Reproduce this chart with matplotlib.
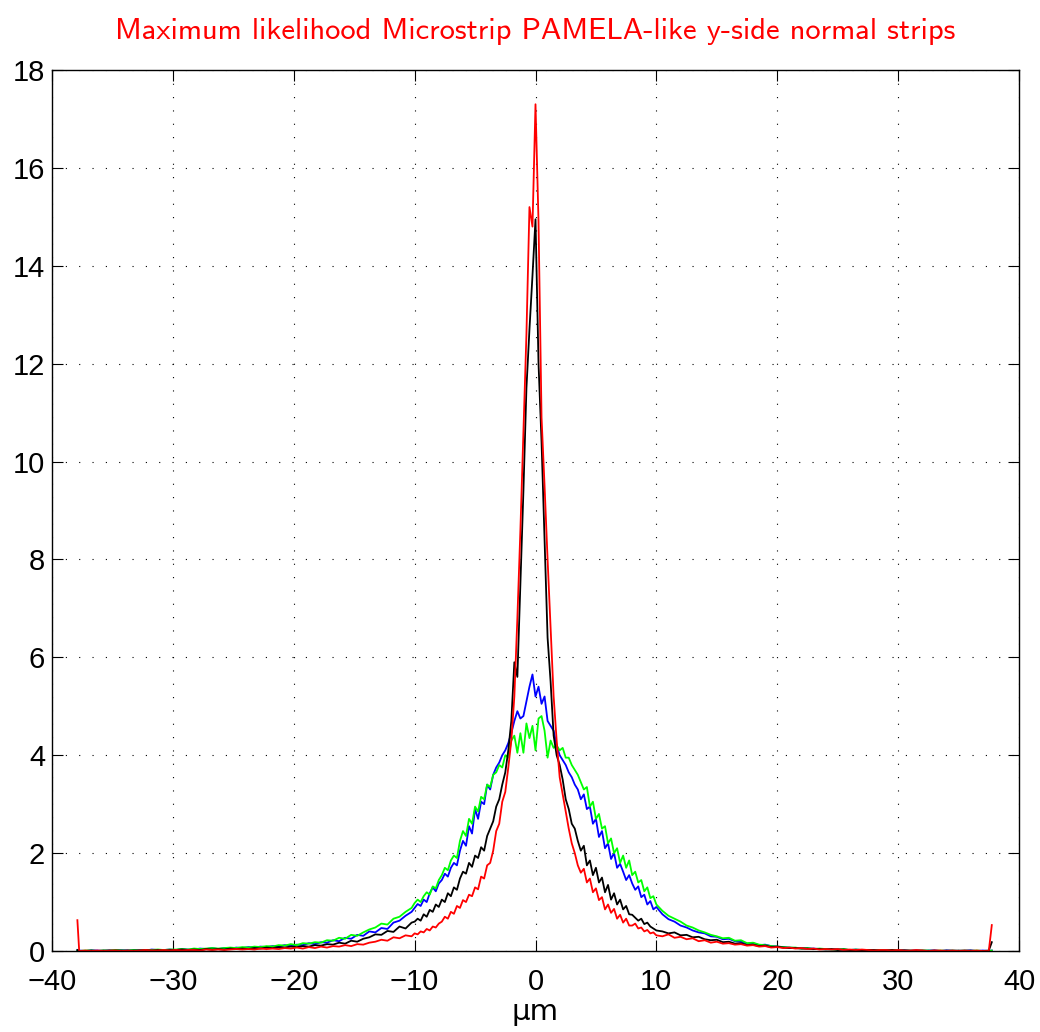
import numpy as np
import matplotlib
matplotlib.use("Agg")
import matplotlib.pyplot as plt

# bin centres: coarse tails (0.5 um), fine core (0.25 um)
x_left = np.concatenate([[-37.9], np.arange(-37.75, -10.2, 0.5)])
x_core = np.arange(-10.0, 10.01, 0.25)
x_right = np.concatenate([np.arange(10.5, 37.51, 0.5), [37.75]])

red_left = [0.63,
            0.00, 0.01, 0.00, 0.01, 0.00, 0.01, 0.01, 0.00,
            0.01, 0.00, 0.01, 0.02, 0.01, 0.01, 0.02, 0.01,
            0.02, 0.01, 0.02, 0.02, 0.01, 0.03, 0.02, 0.03,
            0.02, 0.03, 0.04, 0.03, 0.04, 0.03, 0.05, 0.04,
            0.05, 0.04, 0.06, 0.05, 0.07, 0.05, 0.08, 0.06,
            0.09, 0.07, 0.10, 0.09, 0.12, 0.10, 0.14, 0.13,
            0.17, 0.19, 0.23, 0.21, 0.28, 0.26, 0.32, 0.30]
red_core = [0.36, 0.34, 0.40, 0.38, 0.45, 0.42, 0.50, 0.48, 0.56,
            0.60, 0.70, 0.66, 0.80, 0.76, 0.92, 0.88, 1.04, 1.00,
            1.15, 1.12, 1.30, 1.26, 1.52, 1.48, 1.75, 1.80, 2.05,
            2.45, 2.60, 3.05, 3.25, 3.75, 4.30, 5.20, 6.80, 8.60,
            10.60, 12.60, 15.20, 14.80, 17.30, 14.90, 10.90, 9.50, 8.00,
            6.60, 5.20, 4.30, 3.55, 3.20, 2.85, 2.50, 2.20, 2.00,
            1.75, 1.60, 1.68, 1.40, 1.48, 1.20, 1.28, 1.04, 1.10,
            0.85, 0.95, 0.78, 0.86, 0.66, 0.74, 0.58, 0.66, 0.52,
            0.52, 0.56, 0.46, 0.48, 0.40, 0.43, 0.36, 0.38, 0.32]
red_right = [0.30, 0.34, 0.27, 0.29, 0.24, 0.26, 0.20, 0.22,
             0.17, 0.19, 0.15, 0.16, 0.13, 0.14, 0.11, 0.12,
             0.09, 0.10, 0.07, 0.08, 0.06, 0.07, 0.05, 0.06,
             0.04, 0.05, 0.03, 0.04, 0.03, 0.04, 0.02, 0.03,
             0.02, 0.03, 0.02, 0.01, 0.02, 0.02, 0.01, 0.02,
             0.01, 0.01, 0.02, 0.01, 0.00, 0.01, 0.01, 0.00,
             0.01, 0.00, 0.01, 0.00, 0.01, 0.00, 0.00, 0.53]

black_left = [0.02,
              0.00, 0.00, 0.01, 0.00, 0.01, 0.00, 0.01, 0.01,
              0.00, 0.01, 0.01, 0.02, 0.01, 0.02, 0.01, 0.02,
              0.02, 0.03, 0.02, 0.03, 0.02, 0.04, 0.03, 0.04,
              0.03, 0.05, 0.04, 0.05, 0.04, 0.06, 0.05, 0.07,
              0.06, 0.08, 0.07, 0.09, 0.08, 0.10, 0.09, 0.12,
              0.11, 0.14, 0.13, 0.17, 0.15, 0.21, 0.19, 0.25,
              0.28, 0.34, 0.33, 0.41, 0.39, 0.50, 0.46, 0.58]
black_core = [0.60, 0.66, 0.62, 0.75, 0.70, 0.84, 0.80, 0.95, 0.90,
              1.05, 1.00, 1.18, 1.12, 1.30, 1.25, 1.48, 1.62, 1.58,
              1.80, 1.72, 1.95, 1.90, 2.12, 2.05, 2.35, 2.50, 2.65,
              2.95, 3.10, 3.40, 3.65, 4.10, 4.70, 5.90, 5.60, 7.50,
              9.40, 11.50, 12.70, 13.80, 14.95, 12.00, 10.40, 8.40, 6.40,
              5.50, 4.40, 4.00, 3.80, 3.50, 3.10, 2.90, 2.60, 2.50,
              2.25, 2.05, 2.15, 1.75, 1.85, 1.55, 1.70, 1.40, 1.50,
              1.20, 1.35, 1.05, 1.18, 0.95, 1.05, 0.85, 0.92, 0.75,
              0.74, 0.68, 0.62, 0.66, 0.55, 0.58, 0.50, 0.46, 0.42]
black_right = [0.40, 0.36, 0.38, 0.32, 0.33, 0.28, 0.29, 0.24,
               0.22, 0.23, 0.18, 0.19, 0.15, 0.16, 0.12, 0.13,
               0.10, 0.11, 0.08, 0.09, 0.07, 0.06, 0.06, 0.05,
               0.05, 0.04, 0.04, 0.03, 0.04, 0.02, 0.03, 0.02,
               0.02, 0.01, 0.02, 0.02, 0.01, 0.01, 0.02, 0.01,
               0.01, 0.00, 0.01, 0.01, 0.00, 0.01, 0.00, 0.01,
               0.00, 0.01, 0.00, 0.01, 0.00, 0.00, 0.01, 0.18]

blue_left = [0.02,
             0.01, 0.00, 0.01, 0.01, 0.00, 0.02, 0.01, 0.01,
             0.02, 0.01, 0.02, 0.01, 0.03, 0.02, 0.02, 0.03,
             0.02, 0.04, 0.03, 0.03, 0.05, 0.04, 0.06, 0.04,
             0.06, 0.05, 0.07, 0.06, 0.08, 0.07, 0.09, 0.08,
             0.10, 0.09, 0.12, 0.10, 0.13, 0.12, 0.16, 0.14,
             0.18, 0.17, 0.22, 0.20, 0.27, 0.25, 0.33, 0.31,
             0.40, 0.38, 0.47, 0.45, 0.58, 0.62, 0.72, 0.80]
blue_core = [0.88, 0.96, 0.92, 1.05, 1.00, 1.18, 1.30, 1.22, 1.38,
             1.45, 1.58, 1.52, 1.70, 1.80, 1.75, 2.05, 2.25, 2.15,
             2.55, 2.40, 2.90, 2.70, 3.05, 3.00, 3.40, 3.30, 3.60,
             3.75, 3.85, 4.00, 4.10, 4.25, 4.45, 4.70, 4.90, 4.75,
             4.80, 5.10, 5.40, 5.65, 5.20, 5.40, 5.05, 5.20, 4.70,
             4.60, 4.50, 4.20, 4.00, 3.90, 3.80, 3.65, 3.55, 3.40,
             3.30, 3.10, 3.20, 2.90, 2.95, 2.60, 2.70, 2.33, 2.45,
             2.10, 2.20, 1.88, 2.00, 1.70, 1.78, 1.62, 1.45, 1.55,
             1.38, 1.25, 1.32, 1.10, 1.15, 0.95, 1.02, 0.85, 0.90]
blue_right = [0.75, 0.65, 0.60, 0.52, 0.48, 0.42, 0.38, 0.36,
              0.30, 0.29, 0.24, 0.25, 0.20, 0.19, 0.15, 0.16,
              0.12, 0.13, 0.10, 0.09, 0.08, 0.07, 0.06, 0.06,
              0.05, 0.05, 0.04, 0.04, 0.03, 0.04, 0.03, 0.02,
              0.03, 0.02, 0.02, 0.01, 0.02, 0.02, 0.01, 0.01,
              0.02, 0.01, 0.01, 0.00, 0.01, 0.01, 0.00, 0.01,
              0.01, 0.00, 0.01, 0.01, 0.00, 0.01, 0.00, 0.01]

green_left = [0.01,
              0.00, 0.01, 0.01, 0.00, 0.01, 0.01, 0.02, 0.01,
              0.01, 0.02, 0.01, 0.02, 0.02, 0.03, 0.02, 0.03,
              0.03, 0.04, 0.03, 0.05, 0.04, 0.05, 0.06, 0.05,
              0.06, 0.07, 0.06, 0.08, 0.07, 0.09, 0.08, 0.10,
              0.09, 0.12, 0.11, 0.14, 0.12, 0.16, 0.15, 0.18,
              0.17, 0.22, 0.21, 0.27, 0.25, 0.33, 0.31, 0.38,
              0.44, 0.48, 0.56, 0.54, 0.66, 0.70, 0.80, 0.88]
green_core = [0.98, 1.05, 1.00, 1.12, 1.20, 1.15, 1.32, 1.28, 1.45,
              1.55, 1.70, 1.65, 1.85, 1.95, 1.90, 2.25, 2.45, 2.35,
              2.70, 2.60, 2.95, 2.85, 3.15, 3.10, 3.40, 3.35, 3.60,
              3.65, 3.80, 3.75, 4.00, 3.95, 4.30, 4.40, 4.05, 4.45,
              4.05, 4.65, 4.35, 4.60, 4.10, 4.75, 4.80, 4.50, 3.95,
              4.30, 4.15, 4.20, 4.10, 4.15, 3.95, 3.95, 3.80, 3.70,
              3.60, 3.45, 3.30, 3.35, 2.95, 3.05, 2.70, 2.80, 2.50,
              2.55, 2.20, 2.30, 2.00, 2.10, 1.80, 1.95, 1.70, 1.85,
              1.55, 1.62, 1.40, 1.45, 1.22, 1.30, 1.08, 1.12, 0.95]
green_right = [0.82, 0.72, 0.66, 0.60, 0.52, 0.48, 0.42, 0.38,
               0.33, 0.30, 0.26, 0.27, 0.21, 0.22, 0.16, 0.17,
               0.13, 0.12, 0.10, 0.09, 0.08, 0.07, 0.07, 0.05,
               0.06, 0.04, 0.05, 0.04, 0.03, 0.03, 0.04, 0.02,
               0.03, 0.02, 0.02, 0.01, 0.02, 0.01, 0.02, 0.01,
               0.01, 0.01, 0.00, 0.01, 0.01, 0.00, 0.01, 0.00,
               0.01, 0.00, 0.01, 0.00, 0.01, 0.00, 0.00, 0.01]

x_ticks = list(range(-40, 41, 10))
y_ticks = list(range(0, 19, 2))

xs = np.concatenate([x_left, x_core, x_right])

def series(left, core, right):
    return np.concatenate([left, core, right])

fig = plt.figure(figsize=(10.4, 10.32), dpi=100)
ax = fig.add_axes([52/1040, 81/1032, 967/1040, 881/1032])

curves = [
    (series(blue_left, blue_core, blue_right), "#0000ff"),
    (series(green_left, green_core, green_right), "#00ff00"),
    (series(black_left, black_core, black_right), "#000000"),
    (series(red_left, red_core, red_right), "#ff0000"),
]
for ys, c in curves:
    ax.plot(xs, ys, color=c, lw=1.3)

ax.set_xlim(-40, 40)
ax.set_ylim(0, 18)
ax.set_xticks(x_ticks)
ax.set_yticks(y_ticks)
ax.grid(True, color="black", linestyle=(0, (1, 11)), linewidth=0.8)
ax.tick_params(direction="in", length=8, width=0.8, top=True, right=True,
               labelsize=21)
ax.tick_params(axis="x", pad=12)
ax.tick_params(axis="y", pad=5)
for lbl in ax.get_xticklabels() + ax.get_yticklabels():
    lbl.set_fontfamily("Liberation Sans")
for sp in ax.spines.values():
    sp.set_linewidth(1.0)

ax.set_title("Maximum likelihood Microstrip PAMELA-like y-side normal strips",
             color="red", fontsize=22, fontfamily="cmss10", pad=22)
ax.set_xlabel("\u03bcm", fontsize=21, fontfamily="DejaVu Sans", labelpad=2)

fig.savefig("out.png", dpi=100)
